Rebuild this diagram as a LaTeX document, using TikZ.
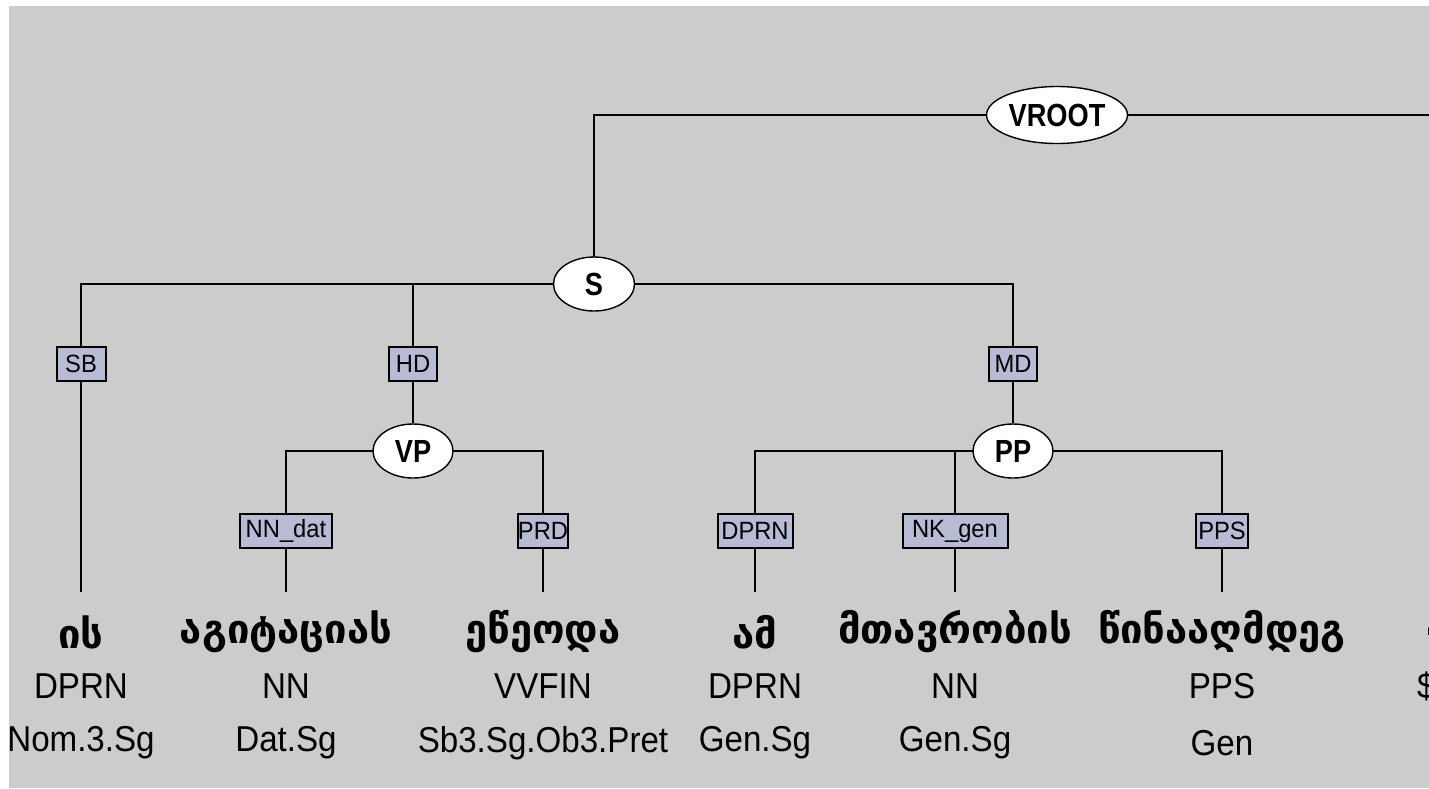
\documentclass[tikz,border=0pt]{standalone}
\usepackage{fontspec}
\setmainfont{Liberation Sans}
\newfontfamily\geofont{DejaVu Sans}
\newfontfamily\tagfont{Liberation Sans}[FakeStretch=0.92]
\newfontfamily\lblfont{Liberation Sans}[FakeStretch=0.85]
\newfontfamily\boxfont{Liberation Sans}[FakeStretch=0.95]
\usetikzlibrary{shapes.geometric,backgrounds}
\definecolor{panel}{RGB}{204,204,204}
\definecolor{boxfill}{RGB}{184,187,212}
\tikzset{
  catnode/.style={ellipse,draw=black,line width=1.4pt,fill=white,inner sep=0pt,
    font=\lblfont\bfseries\fontsize{32}{34}\selectfont},
  edgebox/.style={rectangle,draw=black,line width=2pt,fill=boxfill,inner sep=0pt,
    minimum height=34pt,font=\boxfont\fontsize{25}{27}\selectfont},
  wordtxt/.style={inner sep=0pt,font=\geofont\bfseries\fontsize{40}{42}\selectfont},
  tagtxt/.style={inner sep=0pt,font=\tagfont\fontsize{36}{38}\selectfont},
  conn/.style={draw=black,line width=2.4pt}
}
\begin{document}
\begin{tikzpicture}[x=1pt,y=-1pt]
\useasboundingbox (0,0) rectangle (1429,788);
\clip (0,0) rectangle (1429,788);
\begin{scope}[on background layer]
\fill[white] (0,0) rectangle (1429,788);
\fill[panel] (9,6) rectangle (1429,788);
\end{scope}
% category nodes
\node[catnode,minimum width=141pt,minimum height=57pt] (vroot) at (1057,115) {VROOT};
\node[catnode,minimum width=81pt,minimum height=54pt] (s) at (594,284) {S};
\node[catnode,minimum width=80pt,minimum height=54pt] (vp) at (413,451) {VP};
\node[catnode,minimum width=80pt,minimum height=54pt] (pp) at (1013,451) {PP};
% edge label boxes
\node[edgebox,minimum width=49pt] (sb) at (81,364) {SB};
\node[edgebox,minimum width=48pt] (hd) at (413,364) {HD};
\node[edgebox,minimum width=48pt] (md) at (1013,364) {MD};
\node[edgebox,minimum width=92pt] (nndat) at (286,531) {NN\_dat};
\node[edgebox,minimum width=46pt] (prd) at (543,531) {PRD};
\node[edgebox,minimum width=75pt] (dprn) at (755,531) {DPRN};
\node[edgebox,minimum width=105pt] (nkgen) at (955,531) {NK\_gen};
\node[edgebox,minimum width=52pt] (pps) at (1222,531) {PPS};
% terminal attachment points
\coordinate (t1) at (81,592);
\coordinate (t2) at (286,592);
\coordinate (t3) at (543,592);
\coordinate (t4) at (755,592);
\coordinate (t5) at (955,592);
\coordinate (t6) at (1222,592);
\coordinate (t7) at (1430.5,592);
% words
\node[wordtxt] (w1) at (81,632) {ის};
\node[wordtxt] (w2) at (286,632) {აგიტაციას};
\node[wordtxt] (w3) at (543,632) {ეწეოდა};
\node[wordtxt] (w4) at (755,632) {ამ};
\node[wordtxt] (w5) at (955,632) {მთავრობის};
\node[wordtxt] (w6) at (1222,632) {წინააღმდეგ};
\node[wordtxt,anchor=west] (w7) at (1424,632) {.};
% POS tags
\node[tagtxt] (p1) at (81,686) {DPRN};
\node[tagtxt] (p2) at (286,686) {NN};
\node[tagtxt] (p3) at (543,686) {VVFIN};
\node[tagtxt] (p4) at (755,686) {DPRN};
\node[tagtxt] (p5) at (955,686) {NN};
\node[tagtxt] (p6) at (1222,686) {PPS};
\node[tagtxt,anchor=west] (p7) at (1417,686) {\$.};
% morphology
\node[tagtxt] (m1) at (81,743) {Nom.3.Sg};
\node[tagtxt] (m2) at (286,743) {Dat.Sg};
\node[tagtxt] (m3) at (543,743) {Sb3.Sg.Ob3.Pret};
\node[tagtxt] (m4) at (755,743) {Gen.Sg};
\node[tagtxt] (m5) at (955,743) {Gen.Sg};
\node[tagtxt] (m6) at (1222,743) {Gen};
% connectors
\begin{scope}[on background layer]
\draw[conn] (vroot.center) -| (s.center);
\draw[conn] (vroot.center) -| (t7);
\draw[conn] (s.center) -| (sb.center);
\draw[conn] (s.center) -| (hd.center);
\draw[conn] (s.center) -| (md.center);
\draw[conn] (sb) -- (t1);
\draw[conn] (hd) -- (vp);
\draw[conn] (md) -- (pp);
\draw[conn] (vp.center) -| (nndat.center);
\draw[conn] (vp.center) -| (prd.center);
\draw[conn] (nndat) -- (t2);
\draw[conn] (prd) -- (t3);
\draw[conn] (pp.center) -| (dprn.center);
\draw[conn] (pp.center) -| (nkgen.center);
\draw[conn] (pp.center) -| (pps.center);
\draw[conn] (dprn) -- (t4);
\draw[conn] (nkgen) -- (t5);
\draw[conn] (pps) -- (t6);
\end{scope}
\end{tikzpicture}
\end{document}
